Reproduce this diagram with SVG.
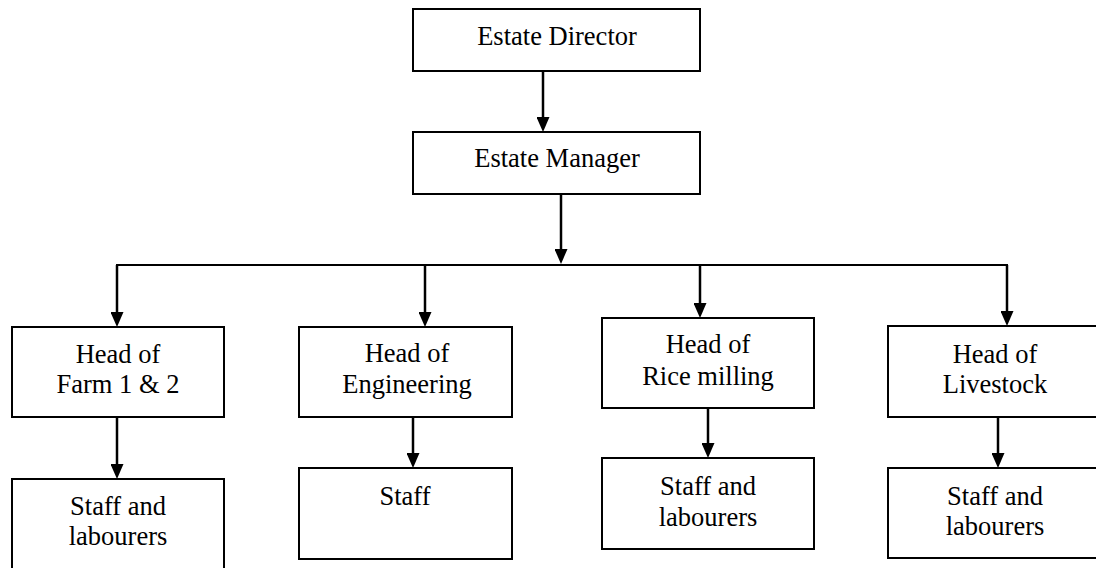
<svg xmlns="http://www.w3.org/2000/svg" width="1096" height="568" viewBox="0 0 1096 568">
<style>
  .box { fill: #ffffff; stroke: #000000; stroke-width: 2; }
  .conn { stroke: #000000; stroke-width: 2.5; fill: none; }
  .bus { stroke: #000000; stroke-width: 2; fill: none; }
</style>
<defs>
  <marker id="arrow" markerUnits="userSpaceOnUse" markerWidth="15" markerHeight="13" viewBox="0 0 15 13" refX="10" refY="6.5" orient="auto">
    <path d="M0,0 L15,6.5 L0,13 z" fill="#000000"/>
  </marker>
</defs>
<rect width="1096" height="568" fill="#ffffff"/>

<g id="connectors">
  <line class="bus" x1="116" y1="265" x2="1008" y2="265"/>
  <line class="conn" x1="543" y1="72" x2="543" y2="127" marker-end="url(#arrow)"/>
  <line class="conn" x1="561" y1="195" x2="561" y2="259" marker-end="url(#arrow)"/>
  <line class="conn" x1="117" y1="265" x2="117" y2="322" marker-end="url(#arrow)"/>
  <line class="conn" x1="425" y1="265" x2="425" y2="322" marker-end="url(#arrow)"/>
  <line class="conn" x1="700" y1="265" x2="700" y2="313" marker-end="url(#arrow)"/>
  <line class="conn" x1="1007" y1="265" x2="1007" y2="321" marker-end="url(#arrow)"/>
  <line class="conn" x1="117" y1="418" x2="117" y2="474" marker-end="url(#arrow)"/>
  <line class="conn" x1="413" y1="418" x2="413" y2="463" marker-end="url(#arrow)"/>
  <line class="conn" x1="708" y1="409" x2="708" y2="453" marker-end="url(#arrow)"/>
  <line class="conn" x1="998" y1="418" x2="998" y2="463" marker-end="url(#arrow)"/>
</g>

<g font-family="Liberation Serif, Times New Roman, serif" font-size="26.5" fill="#000000" text-anchor="middle">
<g id="estate-director">
  <rect class="box" x="413" y="9" width="287" height="62"/>
  <text x="557" y="45">Estate Director</text>
</g>
<g id="estate-manager">
  <rect class="box" x="413" y="132" width="287" height="62"/>
  <text x="557" y="167">Estate Manager</text>
</g>

<g id="head-farm">
  <rect class="box" x="12" y="327" width="212" height="90"/>
  <text x="118" y="363">Head of</text>
  <text x="118" y="393">Farm 1 &amp; 2</text>
</g>
<g id="staff-farm">
  <rect class="box" x="12" y="479" width="212" height="100"/>
  <text x="118" y="515">Staff and</text>
  <text x="118" y="545">labourers</text>
</g>

<g id="head-engineering">
  <rect class="box" x="299" y="327" width="213" height="90"/>
  <text x="407" y="362">Head of</text>
  <text x="407" y="393">Engineering</text>
</g>
<g id="staff-engineering">
  <rect class="box" x="299" y="468" width="213" height="91"/>
  <text x="405" y="505">Staff</text>
</g>

<g id="head-rice">
  <rect class="box" x="602" y="318" width="212" height="90"/>
  <text x="708" y="353">Head of</text>
  <text x="708" y="385">Rice milling</text>
</g>
<g id="staff-rice">
  <rect class="box" x="602" y="458" width="212" height="91"/>
  <text x="708" y="495">Staff and</text>
  <text x="708" y="526">labourers</text>
</g>

<g id="head-livestock">
  <rect class="box" x="888" y="326" width="214" height="91"/>
  <text x="995" y="363">Head of</text>
  <text x="995" y="393">Livestock</text>
</g>
<g id="staff-livestock">
  <rect class="box" x="888" y="468" width="214" height="90"/>
  <text x="995" y="505">Staff and</text>
  <text x="995" y="535">labourers</text>
</g>
</g>
</svg>
